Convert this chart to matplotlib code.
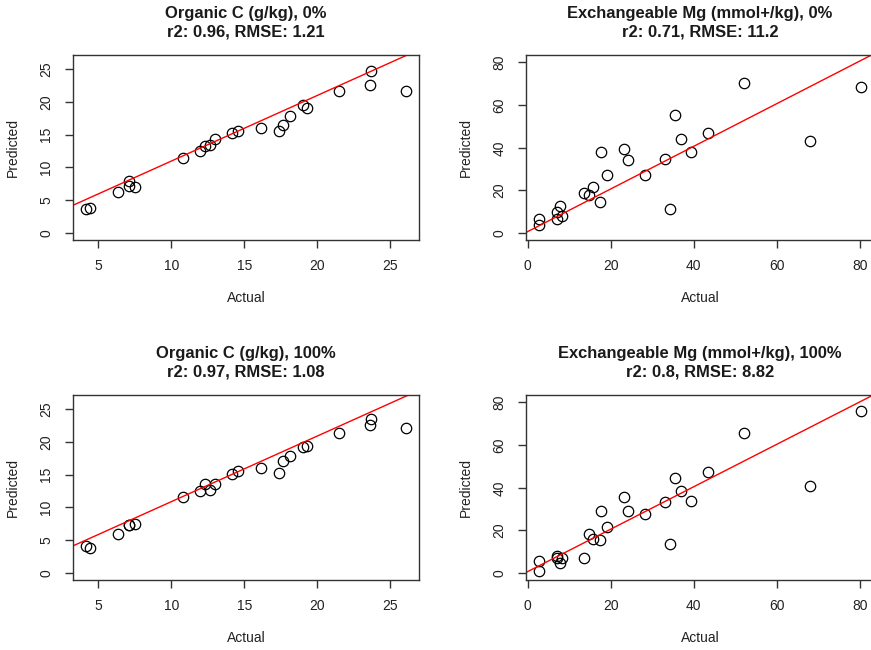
import matplotlib
matplotlib.use("Agg")
import matplotlib.pyplot as plt

plt.rcParams['font.family'] = ['Liberation Sans', 'DejaVu Sans']

# Organic C (g/kg): actual vs predicted for 0% and 100%
oc_actual = [4.13, 4.43, 6.34, 7.13, 7.13, 7.54, 10.81, 11.95, 12.34, 12.66, 13.0, 14.18,
             14.59, 16.13, 17.36, 17.65, 18.16, 18.99, 19.31, 21.45, 23.58, 23.68, 26.08]
oc_pred_0 = [3.70, 3.90, 6.25, 7.93, 7.21, 6.95, 11.48, 12.55, 13.31, 13.36, 14.33, 15.18,
             15.59, 16.0, 15.49, 16.51, 17.77, 19.51, 19.0, 21.65, 22.5, 24.63, 21.65]
oc_pred_100 = [4.06, 3.81, 5.99, 7.31, 7.35, 7.46, 11.58, 12.44, 13.56, 12.65, 13.61, 15.09,
               15.49, 15.95, 15.29, 17.02, 17.88, 19.15, 19.41, 21.39, 22.56, 23.52, 22.04]

# Exchangeable Mg (mmol+/kg)
mg_actual = [2.72, 2.72, 6.98, 7.13, 7.85, 8.33, 13.55, 14.83, 15.72, 17.4, 17.72, 19.09,
             23.18, 24.22, 28.31, 33.05, 34.18, 35.46, 36.9, 39.31, 43.4, 52.0, 67.96, 80.24]
mg_pred_0 = [6.86, 3.74, 9.99, 6.55, 12.8, 8.1, 18.75, 18.1, 21.4, 14.7, 37.8, 27.2,
             39.2, 34.4, 27.2, 34.5, 11.25, 55.3, 43.9, 37.8, 47.0, 70.5, 43.3, 68.5]
mg_pred_100 = [5.77, 0.94, 8.1, 7.3, 4.68, 7.3, 7.0, 18.3, 16.1, 15.6, 29.1, 21.7,
               35.6, 29.1, 27.7, 33.1, 13.6, 44.8, 38.3, 33.6, 47.6, 65.6, 40.9, 76.1]

titles = ["Organic C (g/kg), 0%\nr2: 0.96, RMSE: 1.21",
          "Exchangeable Mg (mmol+/kg), 0%\nr2: 0.71, RMSE: 11.2",
          "Organic C (g/kg), 100%\nr2: 0.97, RMSE: 1.08",
          "Exchangeable Mg (mmol+/kg), 100%\nr2: 0.8, RMSE: 8.82"]

# fitted line (intercept, slope) for each panel
lines = [(0.97, 1.0), (0.7, 1.0), (0.88, 1.0), (0.7, 0.995)]

oc_ticks = [0, 5, 10, 15, 20, 25]
oc_xticks = [5, 10, 15, 20, 25]
mg_ticks = [0, 20, 40, 60, 80]

W, H = 871, 650


def box(l, t, r, b):
    return [l / W, 1 - b / H, (r - l) / W, (b - t) / H]


def r_range(lo, hi):
    d = (hi - lo) * 0.04
    return lo - d, hi + d


def panel(rect, x, y, title, line, xticks, yticks):
    ax = fig.add_axes(rect)
    ax.plot(x, y, 'o', mfc='none', mec='black', ms=7.5, mew=0.9)
    xl = r_range(min(x), max(x))
    yl = r_range(0, max(x))
    a, b = line
    ax.plot(xl, [a + b * xl[0], a + b * xl[1]], color='red', lw=1)
    ax.set_xlim(xl)
    ax.set_ylim(yl)
    ax.set_xticks(xticks)
    ax.set_yticks(yticks)
    for lab in ax.get_yticklabels():
        lab.set_rotation(90)
        lab.set_va('center')
    ax.tick_params(length=6, width=1, color='#333333', labelsize=10,
                   labelcolor='#222222', pad=8)
    for s in ax.spines.values():
        s.set_color('#333333')
        s.set_linewidth(1)
    ax.set_xlabel("Actual", fontsize=10, labelpad=13, color='#222222')
    ax.set_ylabel("Predicted", fontsize=10, labelpad=14, color='#222222')
    ax.set_title(title, fontsize=11.9, fontweight='bold', pad=13,
                 linespacing=1.3, color='#1a1a1a')
    return ax


fig = plt.figure(figsize=(8.71, 6.5), dpi=100)
panel(box(72.7, 55, 419, 240), oc_actual, oc_pred_0, titles[0], lines[0], oc_xticks, oc_ticks)
panel(box(526, 55, 874, 240), mg_actual, mg_pred_0, titles[1], lines[1], mg_ticks, mg_ticks)
panel(box(72.7, 395, 419, 580), oc_actual, oc_pred_100, titles[2], lines[2], oc_xticks, oc_ticks)
panel(box(526, 395, 874, 580), mg_actual, mg_pred_100, titles[3], lines[3], mg_ticks, mg_ticks)

fig.savefig("out.png", dpi=100)
